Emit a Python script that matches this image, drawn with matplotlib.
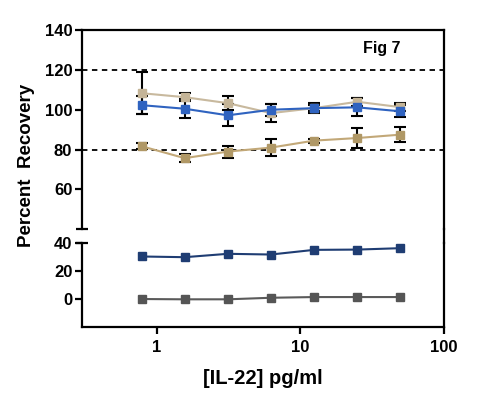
import numpy as np
import matplotlib.pyplot as plt
from matplotlib.lines import Line2D

plt.rcParams['font.family'] = ['Liberation Sans', 'DejaVu Sans']
plt.rcParams['font.weight'] = 'bold'

# concentrations (pg/ml)
conc = [0.78125, 1.5625, 3.125, 6.25, 12.5, 25, 50]

# upper panel series
tan_light = [108.3, 106.3, 103.3, 98.3, 100.8, 104.0, 101.3]
tan_light_err = [10.5, 2.0, 3.4, 4.6, 1.5, 2.0, 2.0]
blue = [102.3, 100.5, 97.2, 100.0, 100.8, 101.2, 99.2]
blue_err = [4.5, 4.7, 5.5, 3.0, 2.5, 4.5, 3.0]
tan_dark = [81.7, 75.7, 79.0, 81.0, 84.5, 85.8, 87.5]
tan_dark_err = [1.5, 2.0, 3.0, 4.3, 1.0, 5.0, 3.8]

# lower panel series
navy = [30.4, 29.9, 32.3, 31.8, 35.1, 35.3, 36.3]
gray = [0.2, 0.0, 0.0, 1.1, 1.6, 1.6, 1.6]

upper_ticks = [60, 80, 100, 120, 140]
lower_ticks = [0, 20, 40]
x_ticks = [1, 10, 100]
x_labels = ['1', '10', '100']

fig = plt.figure(figsize=(5.0, 4.04), dpi=100)
ax1 = fig.add_axes([0.164, 0.4324, 0.723, 0.4933])
ax2 = fig.add_axes([0.164, 0.1894, 0.723, 0.2092])

lw = 1.6
for ax in (ax1, ax2):
    ax.set_xscale('log')
    ax.set_xlim(0.3, 100)
    for s in ax.spines.values():
        s.set_linewidth(lw)
    ax.tick_params(axis='both', direction='out', width=lw, length=5,
                   labelsize=12, pad=2)
    ax.tick_params(axis='x', which='minor', length=0)

ax1.set_ylim(40, 140)
ax1.set_yticks(upper_ticks)
ax1.spines['bottom'].set_visible(False)
ax1.tick_params(axis='x', which='both', bottom=False, labelbottom=False)

ax2.set_ylim(-20, 40)
ax2.set_yticks(lower_ticks)
ax2.spines['top'].set_visible(False)
ax2.set_xticks(x_ticks)
ax2.set_xticklabels(x_labels)
ax2.tick_params(axis='x', pad=4)

# break caps on left spine
ax1.plot([0], [0], marker='_', color='black', markersize=8, mew=lw,
         transform=ax1.transAxes, clip_on=False)
ax2.plot([0], [1], marker='_', color='black', markersize=8, mew=lw,
         transform=ax2.transAxes, clip_on=False)

# continuous right spine across the break
fig.add_artist(Line2D([0.887, 0.887], [0.3985, 0.4324], color='black',
                      lw=lw, transform=fig.transFigure))

ax1.axhline(120, color='black', ls=(0, (3, 2.5)), lw=1.3)
ax1.axhline(80, color='black', ls=(0, (3, 2.5)), lw=1.3)

def series(ax, y, err, color, mcolor):
    if err is not None:
        ax.errorbar(conc, y, yerr=err, fmt='none', ecolor='black',
                    elinewidth=1.5, capsize=4, capthick=1.5, zorder=2)
    ax.plot(conc, y, color=color, lw=1.5, marker='s', markersize=6,
            markerfacecolor=mcolor, markeredgecolor=mcolor, zorder=3)

series(ax1, tan_light, tan_light_err, '#c8b99e', '#c4b497')
series(ax1, tan_dark, tan_dark_err, '#c2a878', '#b09866')
series(ax1, blue, blue_err, '#2f63c0', '#2f63c0')
series(ax2, navy, None, '#1f3d73', '#1f3d73')
series(ax2, gray, None, '#5a5a5a', '#555555')

ax1.text(0.83, 0.905, 'Fig 7', transform=ax1.transAxes, ha='center',
         va='center', fontsize=11.5, fontweight='bold')

fig.text(0.054, 0.59, 'Percent  Recovery', rotation=90, ha='center',
         va='center', fontsize=13.5, fontweight='bold')
fig.text(0.526, 0.064, '[IL-22] pg/ml', ha='center', va='center',
         fontsize=14.5, fontweight='bold')

fig.savefig('out.png', dpi=100)
